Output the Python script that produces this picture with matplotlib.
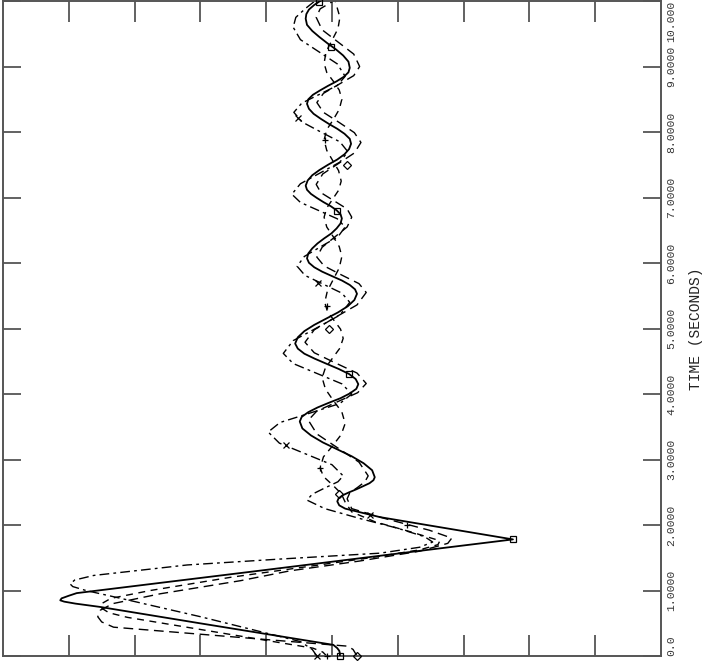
import matplotlib
matplotlib.use("Agg")
import matplotlib.pyplot as plt

# time (s) / response for the four traces
t_a = [0.00, 0.04, 0.08, 0.12, 0.17, 0.50, 0.75, 0.80, 0.83, 0.85, 0.88, 0.92, 0.96, 1.30,
       1.60, 1.70, 1.78, 2.00, 2.12, 2.25, 2.30, 2.36,
       2.406, 2.453, 2.499, 2.545, 2.591, 2.638, 2.684, 2.73,
       2.836, 2.943, 3.049, 3.155, 3.261, 3.368, 3.474, 3.58,
       3.651, 3.723, 3.794, 3.865, 3.936, 4.008, 4.079, 4.15,
       4.228, 4.305, 4.383, 4.46, 4.538, 4.615, 4.693, 4.77,
       4.865, 4.96, 5.055, 5.15, 5.245, 5.34, 5.435, 5.53,
       5.598, 5.665, 5.733, 5.80, 5.868, 5.935, 6.003, 6.07,
       6.146, 6.223, 6.299, 6.375, 6.451, 6.528, 6.604, 6.68,
       6.743, 6.805, 6.868, 6.93, 6.993, 7.055, 7.118, 7.18,
       7.26, 7.34, 7.42, 7.50, 7.58, 7.66, 7.74, 7.82,
       7.896, 7.973, 8.049, 8.125, 8.201, 8.278, 8.354, 8.43,
       8.499, 8.568, 8.636, 8.705, 8.774, 8.843, 8.911, 8.98,
       9.074, 9.168, 9.261, 9.355, 9.449, 9.543, 9.636, 9.73,
       9.80, 9.87, 9.94, 10.0]
v_a = [0.12, 0.12, 0.11, 0.08, 0.02, -2.01, -3.53, -3.90, -4.07, -4.13, -4.11, -4.00, -3.88,
       -1.12, 1.29, 2.10, 2.75, 1.44, 0.73, 0.20, 0.11, 0.08,
       0.10, 0.16, 0.26, 0.37, 0.47, 0.57, 0.63, 0.65,
       0.61, 0.48, 0.30, 0.08, -0.14, -0.32, -0.45, -0.49,
       -0.46, -0.36, -0.22, -0.05, 0.13, 0.27, 0.37, 0.40,
       0.36, 0.26, 0.10, -0.08, -0.26, -0.42, -0.52, -0.56,
       -0.52, -0.42, -0.27, -0.09, 0.09, 0.24, 0.34, 0.38,
       0.35, 0.27, 0.15, 0.00, -0.15, -0.27, -0.35, -0.38,
       -0.36, -0.30, -0.22, -0.12, -0.01, 0.07, 0.13, 0.15,
       0.13, 0.07, -0.02, -0.13, -0.23, -0.32, -0.38, -0.40,
       -0.37, -0.30, -0.19, -0.06, 0.08, 0.19, 0.26, 0.29,
       0.27, 0.19, 0.08, -0.05, -0.17, -0.28, -0.35, -0.38,
       -0.36, -0.29, -0.18, -0.06, 0.07, 0.18, 0.25, 0.27,
       0.25, 0.17, 0.06, -0.07, -0.19, -0.30, -0.38, -0.40,
       -0.39, -0.35, -0.27, -0.18]

t_b = [0.00, 0.10, 0.15, 0.44, 0.52, 0.60, 0.70, 0.80, 0.95, 1.15, 1.30, 1.45, 1.60, 1.72,
       1.80, 1.92, 2.10, 2.25, 2.40, 2.49, 2.575, 2.66, 2.75, 2.96, 3.175, 3.39, 3.60, 3.74,
       3.88, 4.02, 4.16, 4.32, 4.475, 4.63, 4.79, 4.98, 5.17, 5.36, 5.55, 5.685, 5.82, 5.955,
       6.09, 6.24, 6.395, 6.55, 6.70, 6.825, 6.95, 7.075, 7.20, 7.36, 7.52, 7.68, 7.84,
       7.99, 8.145, 8.30, 8.45, 8.59, 8.725, 8.86, 9.00, 9.19, 9.375, 9.56, 9.75, 9.88, 10.0]
v_b = [0.38, 0.32, 0.24, -3.32, -3.50, -3.56, -3.52, -3.33, -2.61, -1.39, -0.64, 0.42, 1.33,
       1.76, 1.82, 1.48, 0.80, 0.30, 0.23, 0.27, 0.39, 0.50, 0.55, 0.41, 0.09, -0.23, -0.36,
       -0.23, 0.08, 0.39, 0.52, 0.38, 0.05, -0.27, -0.41, -0.27, 0.05, 0.38, 0.52, 0.41,
       0.14, -0.12, -0.23, -0.15, 0.04, 0.23, 0.30, 0.23, 0.03, -0.17, -0.24, -0.14, 0.10,
       0.34, 0.44, 0.34, 0.11, -0.13, -0.23, -0.13, 0.10, 0.33, 0.42, 0.33, 0.09, -0.15,
       -0.24, -0.18, 0.02]

t_c = [0.00, 0.06, 0.12, 0.59, 0.66, 0.73, 0.80, 0.88, 1.00, 1.20, 1.35, 1.50, 1.62, 1.70,
       1.76, 1.90, 2.05, 2.20, 2.35, 2.48, 2.61, 2.74, 2.87, 3.04, 3.21, 3.38, 3.55, 3.725,
       3.90, 4.075, 4.25, 4.40, 4.55, 4.70, 4.85, 4.99, 5.125, 5.26, 5.40, 5.575, 5.75,
       5.925, 6.10, 6.25, 6.40, 6.55, 6.70, 6.84, 6.975, 7.11, 7.25, 7.41, 7.565, 7.72,
       7.88, 8.035, 8.19, 8.345, 8.50, 8.64, 8.775, 8.91, 9.05, 9.225, 9.40, 9.575, 9.75,
       10.0]
v_c = [-0.08, -0.14, -0.29, -3.11, -3.39, -3.50, -3.50, -3.36, -2.76, -1.55, -0.48, 0.58,
       1.33, 1.61, 1.64, 1.18, 0.65, 0.30, 0.20, 0.14, 0.01, -0.13, -0.18, -0.13, 0.01, 0.14,
       0.20, 0.15, 0.02, -0.10, -0.15, -0.10, 0.01, 0.12, 0.17, 0.13, 0.03, -0.07, -0.11,
       -0.07, 0.02, 0.11, 0.15, 0.11, 0.02, -0.08, -0.12, -0.08, 0.01, 0.10, 0.14, 0.10,
       0.01, -0.08, -0.12, -0.08, 0.02, 0.11, 0.15, 0.11, 0.02, -0.08, -0.12, -0.09, 0.00,
       0.09, 0.12, 0.05]

t_d = [0.00, 0.10, 0.22, 0.60, 0.88, 1.00, 1.06, 1.10, 1.16, 1.23, 1.39, 1.48, 1.57, 1.66,
       1.74, 1.82, 1.95, 2.10, 2.25, 2.38, 2.47, 2.565, 2.66, 2.75, 2.92, 3.085, 3.25, 3.42,
       3.565, 3.71, 3.855, 4.00, 4.155, 4.31, 4.465, 4.62, 4.815, 5.01, 5.205, 5.40, 5.54,
       5.675, 5.81, 5.95, 6.10, 6.25, 6.40, 6.55, 6.675, 6.80, 6.925, 7.05, 7.21, 7.375,
       7.54, 7.70, 7.85, 8.00, 8.15, 8.30, 8.44, 8.575, 8.71, 8.85, 9.04, 9.225, 9.41, 9.60,
       9.75, 9.88, 10.0]
v_d = [-0.23, -0.30, -0.48, -2.00, -3.21, -3.74, -3.94, -3.98, -3.91, -3.62, -2.20, -0.79,
       0.73, 1.33, 1.53, 1.41, 1.00, 0.42, -0.11, -0.38, -0.30, -0.11, 0.09, 0.17, 0.00,
       -0.40, -0.80, -0.97, -0.79, -0.33, 0.12, 0.30, 0.15, -0.22, -0.59, -0.74, -0.59,
       -0.23, 0.12, 0.27, 0.15, -0.13, -0.41, -0.53, -0.42, -0.17, 0.09, 0.20, 0.08, -0.20,
       -0.48, -0.61, -0.48, -0.18, 0.12, 0.24, 0.12, -0.17, -0.45, -0.58, -0.46, -0.19, 0.08,
       0.20, 0.08, -0.20, -0.48, -0.59, -0.55, -0.41, -0.26]

# symbols
sq_t = [0.0, 1.78, 4.30, 6.80, 9.30, 9.98]
sq_v = [0.12, 2.75, 0.26, 0.07, -0.02, -0.19]
dm_t = [0.0, 2.48, 4.99, 7.50]
dm_v = [0.38, 0.11, -0.05, 0.23]
pl_t = [0.0, 2.87, 5.35, 7.88, 2.00]
pl_v = [-0.08, -0.18, -0.08, -0.11, 1.14]
xx_t = [0.0, 3.22, 5.70, 8.22, 2.15]
xx_v = [-0.23, -0.70, -0.21, -0.52, 0.58]

t_ticks = [0, 1, 2, 3, 4, 5, 6, 7, 8, 9, 10]
t_labels = ["0.0", "1.0000", "2.0000", "3.0000", "4.0000", "5.0000",
            "6.0000", "7.0000", "8.0000", "9.0000", "10.000"]
v_ticks = [-4, -3, -2, -1, 0, 1, 2, 3, 4]

fig = plt.figure(figsize=(7.06, 6.63), dpi=100)
ax = fig.add_axes([3 / 706, 7 / 663, 658 / 706, 655 / 663])

ax.plot(v_a, t_a, color="k", lw=1.3, zorder=4)
ax.plot(v_b, t_b, color="k", lw=1.0, dashes=(7, 4))
ax.plot(v_c, t_c, color="k", lw=1.0, dashes=(5, 4))
ax.plot(v_d, t_d, color="k", lw=1.0, dashes=(7, 3, 2, 3))

mk = dict(ls="none", color="k", mfc="none", ms=5, mew=0.9, zorder=5, clip_on=False)
ax.plot(sq_v, sq_t, marker="s", **mk)
ax.plot(dm_v, dm_t, marker="D", **dict(mk, ms=4))
ax.plot(pl_v, pl_t, marker="+", **mk)
ax.plot(xx_v, xx_t, marker="x", **mk)

ax.set_xlim(-5, 5)
ax.set_ylim(0, 10)
ax.set_xticks(v_ticks)
ax.set_xticklabels([])
ax.set_yticks(t_ticks, t_labels)

for side in ["left", "right", "top", "bottom"]:
    ax.spines[side].set_color("#555555")
    ax.spines[side].set_linewidth(1.4)

ax.tick_params(axis="x", which="major", direction="in", top=True, bottom=True,
               length=15, width=1.3, color="#555555", labelbottom=False)
ax.tick_params(axis="y", which="major", direction="in", left=True, right=True,
               length=13, width=1.3, color="#555555", labelleft=False,
               labelright=True, labelrotation=90, pad=4, labelsize=8.2,
               labelcolor="#333333")
labs = ax.get_yticklabels()
for lab in labs:
    lab.set_family("Liberation Mono")
    lab.set_va("center")
labs[0].set_va("bottom")
labs[-1].set_va("top")

ax.yaxis.set_label_position("right")
ax.set_ylabel("TIME (SECONDS)", rotation=90, family="Liberation Mono",
              fontsize=10.5, labelpad=9, color="#222222")

fig.savefig("out.png", dpi=100)
